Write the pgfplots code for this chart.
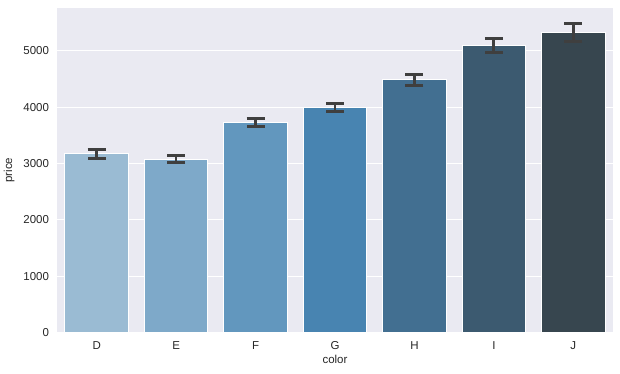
\documentclass[border=0pt]{standalone}
\usepackage{pgfplots}
\pgfplotsset{compat=1.18}
\usepackage{fontspec}
\setmainfont{Liberation Sans}
\definecolor{bg}{HTML}{EAEAF2}
\definecolor{txt}{HTML}{262626}
\definecolor{errc}{HTML}{3F3F3F}
\definecolor{cD}{HTML}{9ABBD3}
\definecolor{cE}{HTML}{7EA9C9}
\definecolor{cF}{HTML}{6297BE}
\definecolor{cG}{HTML}{4884B1}
\definecolor{cH}{HTML}{426F91}
\definecolor{cI}{HTML}{3C5A70}
\definecolor{cJ}{HTML}{37464F}
\begin{document}
\fontsize{11.5}{13}\selectfont
\begin{tikzpicture}
\begin{axis}[
  scale only axis, width=557pt, height=325pt,
  xmin=-0.5, xmax=6.5, ymin=0, ymax=5760,
  axis background/.style={fill=bg},
  axis line style={draw=none},
  major tick length=0pt,
  ymajorgrids, grid style={white, line width=1pt},
  xtick={0,...,6}, xticklabels={D,E,F,G,H,I,J},
  ytick={0,1000,...,5000},
  scaled y ticks=false,
  /pgf/number format/assume math mode=true,
  yticklabel style={/pgf/number format/1000 sep={}, xshift=-4pt},
  ticklabel style={font=\fontsize{11.5}{13}\selectfont, text=txt},
  xticklabel style={yshift=-5pt},
  xlabel={color}, ylabel={price},
  label style={font=\fontsize{11.5}{13}\selectfont, text=txt},
  xlabel style={yshift=2pt},
  ylabel style={yshift=1pt},
  ybar, bar width=0.8, bar shift=0pt,
  error bars/error bar style={errc, line width=2.8pt},
  error bars/error mark options={rotate=90, errc, mark size=9pt, line width=2.8pt},
]
\addplot[fill=cD, draw=white, line width=1pt, error bars/.cd, y dir=both, y explicit] coordinates {(0,3169.95) +- (0,82)};
\addplot[fill=cE, draw=white, line width=1pt, error bars/.cd, y dir=both, y explicit] coordinates {(1,3076.75) +- (0,62)};
\addplot[fill=cF, draw=white, line width=1pt, error bars/.cd, y dir=both, y explicit] coordinates {(2,3724.89) +- (0,75)};
\addplot[fill=cG, draw=white, line width=1pt, error bars/.cd, y dir=both, y explicit] coordinates {(3,3999.14) +- (0,70)};
\addplot[fill=cH, draw=white, line width=1pt, error bars/.cd, y dir=both, y explicit] coordinates {(4,4486.67) +- (0,98)};
\addplot[fill=cI, draw=white, line width=1pt, error bars/.cd, y dir=both, y explicit] coordinates {(5,5091.87) +- (0,122)};
\addplot[fill=cJ, draw=white, line width=1pt, error bars/.cd, y dir=both, y explicit] coordinates {(6,5323.82) +- (0,160)};
\end{axis}
\useasboundingbox (current axis.south west) ++(-56pt,-41pt) rectangle ++(620pt,374pt);
\end{tikzpicture}
\end{document}
